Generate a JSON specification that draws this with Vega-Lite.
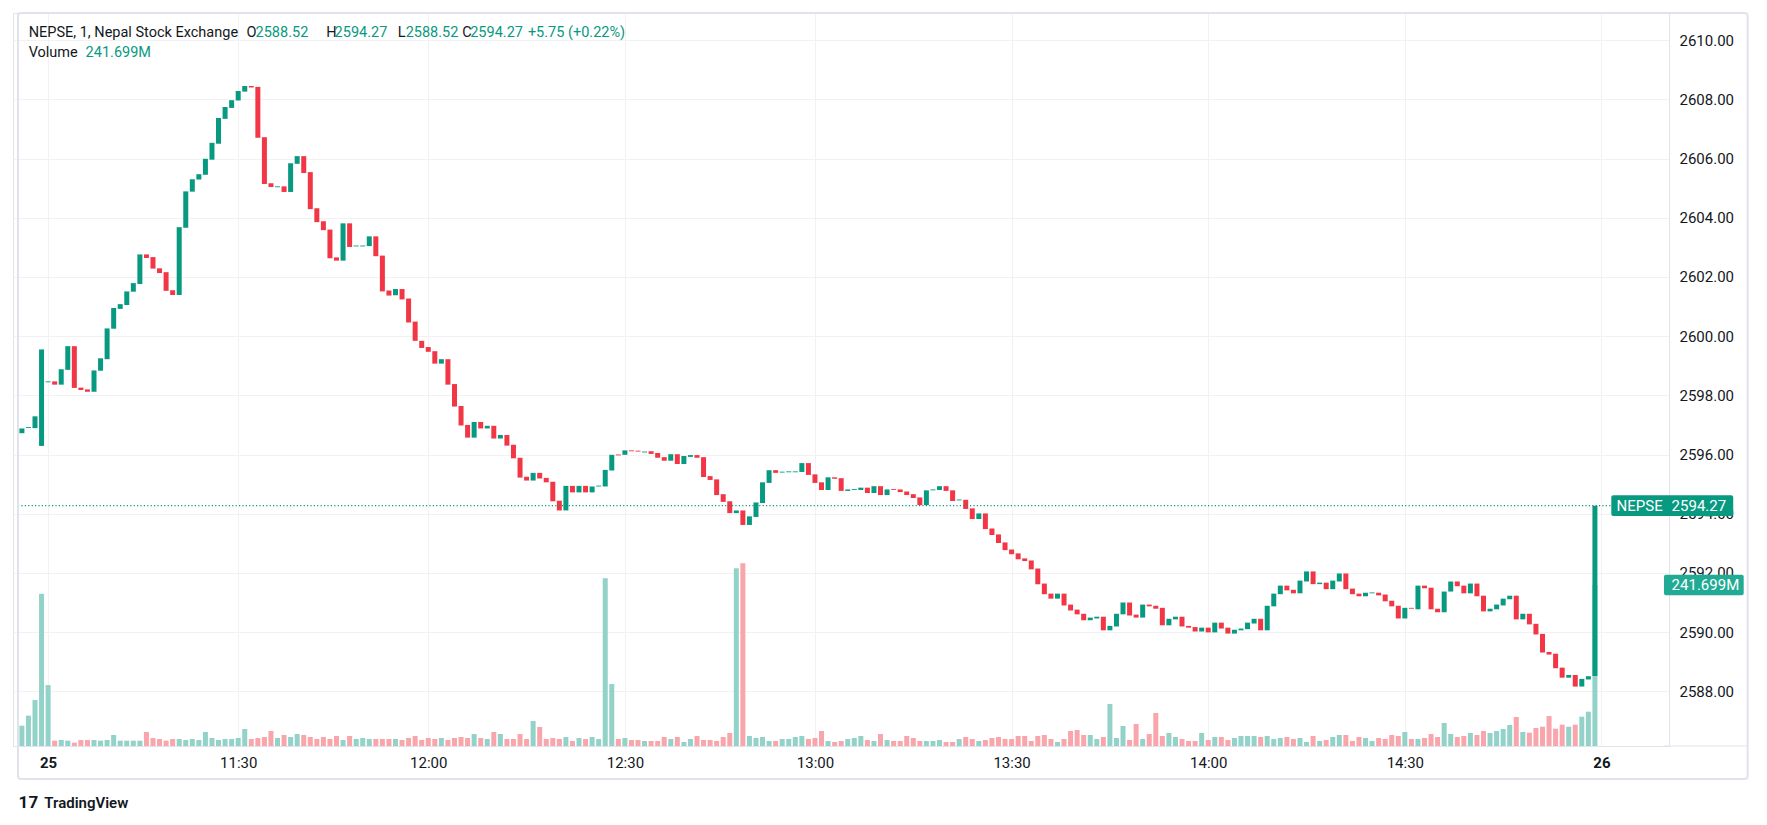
{
"$schema": "https://vega.github.io/schema/vega-lite/v6.json",
"width": 1656,
"height": 733,
"autosize": {"type": "none"},
"padding": {"left": 13, "top": 13, "right": 98, "bottom": 79},
"background": "white",
"config": {
  "view": {"stroke": "#E0E3EB", "strokeWidth": 1},
  "font": "Roboto",
  "axis": {"labelFont": "Roboto", "labelFontSize": 15, "labelColor": "#131722", "gridColor": "#F2F2F3", "gridWidth": 1, "domainColor": "#E0E3EB", "ticks": false}
},
"data": {"values": [
{"i":-4,"open":2596.72,"close":2596.88,"vol":30.5},
{"i":-3,"open":2596.90,"close":2596.93,"vol":45.5},
{"i":-2,"open":2596.89,"close":2597.29,"vol":69},
{"i":-1,"open":2596.29,"close":2599.55,"vol":228.5},
{"i":0,"open":2598.44,"close":2598.47,"vol":91.5},
{"i":1,"open":2598.47,"close":2598.36,"vol":8},
{"i":2,"open":2598.36,"close":2598.88,"vol":9},
{"i":3,"open":2598.86,"close":2599.66,"vol":8},
{"i":4,"open":2599.66,"close":2598.25,"vol":5},
{"i":5,"open":2598.26,"close":2598.18,"vol":9},
{"i":6,"open":2598.20,"close":2598.12,"vol":9},
{"i":7,"open":2598.12,"close":2598.84,"vol":9},
{"i":8,"open":2598.83,"close":2599.25,"vol":8},
{"i":9,"open":2599.22,"close":2600.26,"vol":9},
{"i":10,"open":2600.25,"close":2600.95,"vol":16.5},
{"i":11,"open":2600.92,"close":2601.08,"vol":8},
{"i":12,"open":2601.05,"close":2601.51,"vol":8},
{"i":13,"open":2601.50,"close":2601.79,"vol":8},
{"i":14,"open":2601.76,"close":2602.76,"vol":8},
{"i":15,"open":2602.76,"close":2602.64,"vol":21},
{"i":16,"open":2602.67,"close":2602.28,"vol":12},
{"i":17,"open":2602.29,"close":2602.13,"vol":10.5},
{"i":18,"open":2602.16,"close":2601.53,"vol":8},
{"i":19,"open":2601.55,"close":2601.39,"vol":10.5},
{"i":20,"open":2601.39,"close":2603.68,"vol":10.5},
{"i":21,"open":2603.66,"close":2604.89,"vol":9},
{"i":22,"open":2604.88,"close":2605.30,"vol":10.5},
{"i":23,"open":2605.29,"close":2605.47,"vol":9},
{"i":24,"open":2605.45,"close":2605.99,"vol":21},
{"i":25,"open":2605.96,"close":2606.53,"vol":12},
{"i":26,"open":2606.50,"close":2607.37,"vol":9},
{"i":27,"open":2607.34,"close":2607.74,"vol":10.5},
{"i":28,"open":2607.71,"close":2607.97,"vol":10.5},
{"i":29,"open":2607.96,"close":2608.28,"vol":12},
{"i":30,"open":2608.26,"close":2608.45,"vol":25.5},
{"i":31,"open":2608.45,"close":2608.40,"vol":10.5},
{"i":32,"open":2608.42,"close":2606.70,"vol":12},
{"i":33,"open":2606.72,"close":2605.14,"vol":13.5},
{"i":34,"open":2605.16,"close":2605.04,"vol":22.5},
{"i":35,"open":2605.03,"close":2605.06,"vol":12},
{"i":36,"open":2605.06,"close":2604.87,"vol":16.5},
{"i":37,"open":2604.87,"close":2605.84,"vol":13.5},
{"i":38,"open":2605.82,"close":2606.08,"vol":18},
{"i":39,"open":2606.08,"close":2605.51,"vol":16.5},
{"i":40,"open":2605.54,"close":2604.29,"vol":13.5},
{"i":41,"open":2604.32,"close":2603.85,"vol":10.5},
{"i":42,"open":2603.88,"close":2603.58,"vol":13.5},
{"i":43,"open":2603.60,"close":2602.63,"vol":10.5},
{"i":44,"open":2602.66,"close":2602.55,"vol":15},
{"i":45,"open":2602.55,"close":2603.81,"vol":9},
{"i":46,"open":2603.81,"close":2603.01,"vol":15},
{"i":47,"open":2603.03,"close":2603.06,"vol":10.5},
{"i":48,"open":2603.03,"close":2603.06,"vol":12},
{"i":49,"open":2603.04,"close":2603.37,"vol":10.5},
{"i":50,"open":2603.37,"close":2602.70,"vol":10.5},
{"i":51,"open":2602.72,"close":2601.51,"vol":10.5},
{"i":52,"open":2601.54,"close":2601.37,"vol":10.5},
{"i":53,"open":2601.38,"close":2601.59,"vol":10.5},
{"i":54,"open":2601.59,"close":2601.24,"vol":9},
{"i":55,"open":2601.27,"close":2600.46,"vol":12},
{"i":56,"open":2600.49,"close":2599.84,"vol":15},
{"i":57,"open":2599.84,"close":2599.60,"vol":9},
{"i":58,"open":2599.63,"close":2599.47,"vol":12},
{"i":59,"open":2599.49,"close":2599.07,"vol":10.5},
{"i":60,"open":2599.07,"close":2599.22,"vol":12},
{"i":61,"open":2599.22,"close":2598.36,"vol":9},
{"i":62,"open":2598.38,"close":2597.62,"vol":12},
{"i":63,"open":2597.64,"close":2596.98,"vol":13.5},
{"i":64,"open":2597.00,"close":2596.57,"vol":12},
{"i":65,"open":2596.57,"close":2597.10,"vol":18},
{"i":66,"open":2597.10,"close":2596.88,"vol":12},
{"i":67,"open":2596.88,"close":2596.97,"vol":10.5},
{"i":68,"open":2596.97,"close":2596.54,"vol":21},
{"i":69,"open":2596.54,"close":2596.66,"vol":18},
{"i":70,"open":2596.66,"close":2596.30,"vol":10.5},
{"i":71,"open":2596.33,"close":2595.87,"vol":10.5},
{"i":72,"open":2595.89,"close":2595.22,"vol":18},
{"i":73,"open":2595.25,"close":2595.12,"vol":10.5},
{"i":74,"open":2595.12,"close":2595.38,"vol":37.5},
{"i":75,"open":2595.38,"close":2595.19,"vol":28.5},
{"i":76,"open":2595.21,"close":2595.06,"vol":10.5},
{"i":77,"open":2595.08,"close":2594.42,"vol":12},
{"i":78,"open":2594.44,"close":2594.11,"vol":10.5},
{"i":79,"open":2594.11,"close":2594.94,"vol":13.5},
{"i":80,"open":2594.94,"close":2594.72,"vol":7.5},
{"i":81,"open":2594.72,"close":2594.94,"vol":12},
{"i":82,"open":2594.94,"close":2594.72,"vol":10.5},
{"i":83,"open":2594.72,"close":2594.92,"vol":13.5},
{"i":84,"open":2594.92,"close":2594.95,"vol":10.5},
{"i":85,"open":2594.92,"close":2595.48,"vol":252},
{"i":86,"open":2595.46,"close":2595.99,"vol":93},
{"i":87,"open":2596.00,"close":2595.97,"vol":10.5},
{"i":88,"open":2595.99,"close":2596.14,"vol":12},
{"i":89,"open":2596.14,"close":2596.11,"vol":9},
{"i":90,"open":2596.13,"close":2596.10,"vol":9},
{"i":91,"open":2596.07,"close":2596.10,"vol":7.5},
{"i":92,"open":2596.11,"close":2596.02,"vol":7.5},
{"i":93,"open":2596.05,"close":2595.89,"vol":7.5},
{"i":94,"open":2595.91,"close":2595.79,"vol":13.5},
{"i":95,"open":2595.79,"close":2596.01,"vol":10.5},
{"i":96,"open":2596.01,"close":2595.68,"vol":13.5},
{"i":97,"open":2595.68,"close":2595.95,"vol":6},
{"i":98,"open":2595.92,"close":2595.98,"vol":10.5},
{"i":99,"open":2595.98,"close":2595.89,"vol":15},
{"i":100,"open":2595.91,"close":2595.24,"vol":9},
{"i":101,"open":2595.27,"close":2595.14,"vol":9},
{"i":102,"open":2595.16,"close":2594.63,"vol":7.5},
{"i":103,"open":2594.66,"close":2594.40,"vol":13.5},
{"i":104,"open":2594.42,"close":2594.02,"vol":19.5},
{"i":105,"open":2594.02,"close":2594.11,"vol":267},
{"i":106,"open":2594.11,"close":2593.62,"vol":274.5},
{"i":107,"open":2593.62,"close":2593.91,"vol":15},
{"i":108,"open":2593.89,"close":2594.38,"vol":12},
{"i":109,"open":2594.36,"close":2595.06,"vol":13.5},
{"i":110,"open":2595.04,"close":2595.47,"vol":7.5},
{"i":111,"open":2595.47,"close":2595.38,"vol":7.5},
{"i":112,"open":2595.39,"close":2595.42,"vol":10.5},
{"i":113,"open":2595.40,"close":2595.43,"vol":10.5},
{"i":114,"open":2595.40,"close":2595.43,"vol":13.5},
{"i":115,"open":2595.41,"close":2595.71,"vol":15},
{"i":116,"open":2595.71,"close":2595.31,"vol":10.5},
{"i":117,"open":2595.33,"close":2595.04,"vol":12},
{"i":118,"open":2595.06,"close":2594.80,"vol":22.5},
{"i":119,"open":2594.80,"close":2595.23,"vol":7.5},
{"i":120,"open":2595.23,"close":2595.18,"vol":6},
{"i":121,"open":2595.20,"close":2594.77,"vol":7.5},
{"i":122,"open":2594.77,"close":2594.82,"vol":10.5},
{"i":123,"open":2594.80,"close":2594.83,"vol":12},
{"i":124,"open":2594.80,"close":2594.88,"vol":15},
{"i":125,"open":2594.88,"close":2594.70,"vol":9},
{"i":126,"open":2594.70,"close":2594.93,"vol":7.5},
{"i":127,"open":2594.93,"close":2594.63,"vol":18},
{"i":128,"open":2594.63,"close":2594.82,"vol":9},
{"i":129,"open":2594.83,"close":2594.80,"vol":7.5},
{"i":130,"open":2594.82,"close":2594.73,"vol":7.5},
{"i":131,"open":2594.75,"close":2594.63,"vol":15},
{"i":132,"open":2594.66,"close":2594.53,"vol":12},
{"i":133,"open":2594.55,"close":2594.29,"vol":7.5},
{"i":134,"open":2594.29,"close":2594.79,"vol":7.5},
{"i":135,"open":2594.79,"close":2594.82,"vol":7.5},
{"i":136,"open":2594.80,"close":2594.93,"vol":9},
{"i":137,"open":2594.93,"close":2594.77,"vol":6},
{"i":138,"open":2594.79,"close":2594.43,"vol":6},
{"i":139,"open":2594.45,"close":2594.48,"vol":10.5},
{"i":140,"open":2594.47,"close":2594.16,"vol":13.5},
{"i":141,"open":2594.18,"close":2593.82,"vol":10.5},
{"i":142,"open":2593.82,"close":2594.01,"vol":7.5},
{"i":143,"open":2594.01,"close":2593.48,"vol":9},
{"i":144,"open":2593.50,"close":2593.28,"vol":12},
{"i":145,"open":2593.30,"close":2593.01,"vol":13.5},
{"i":146,"open":2593.03,"close":2592.77,"vol":10.5},
{"i":147,"open":2592.79,"close":2592.63,"vol":10.5},
{"i":148,"open":2592.66,"close":2592.46,"vol":15},
{"i":149,"open":2592.49,"close":2592.40,"vol":15},
{"i":150,"open":2592.42,"close":2592.12,"vol":7.5},
{"i":151,"open":2592.15,"close":2591.62,"vol":15},
{"i":152,"open":2591.64,"close":2591.28,"vol":16.5},
{"i":153,"open":2591.30,"close":2591.13,"vol":10.5},
{"i":154,"open":2591.13,"close":2591.30,"vol":6},
{"i":155,"open":2591.30,"close":2590.90,"vol":10.5},
{"i":156,"open":2590.93,"close":2590.73,"vol":22.5},
{"i":157,"open":2590.76,"close":2590.60,"vol":24},
{"i":158,"open":2590.62,"close":2590.40,"vol":16.5},
{"i":159,"open":2590.40,"close":2590.49,"vol":16.5},
{"i":160,"open":2590.46,"close":2590.52,"vol":10.5},
{"i":161,"open":2590.52,"close":2590.06,"vol":13.5},
{"i":162,"open":2590.06,"close":2590.21,"vol":63},
{"i":163,"open":2590.19,"close":2590.62,"vol":12},
{"i":164,"open":2590.60,"close":2591.00,"vol":30},
{"i":165,"open":2591.00,"close":2590.56,"vol":9},
{"i":166,"open":2590.59,"close":2590.49,"vol":33},
{"i":167,"open":2590.49,"close":2590.93,"vol":10.5},
{"i":168,"open":2590.93,"close":2590.87,"vol":18},
{"i":169,"open":2590.89,"close":2590.79,"vol":49.5},
{"i":170,"open":2590.82,"close":2590.23,"vol":15},
{"i":171,"open":2590.23,"close":2590.45,"vol":19.5},
{"i":172,"open":2590.43,"close":2590.52,"vol":13.5},
{"i":173,"open":2590.52,"close":2590.19,"vol":10.5},
{"i":174,"open":2590.21,"close":2590.15,"vol":7.5},
{"i":175,"open":2590.17,"close":2590.02,"vol":7.5},
{"i":176,"open":2590.02,"close":2590.15,"vol":19.5},
{"i":177,"open":2590.15,"close":2589.99,"vol":9},
{"i":178,"open":2589.99,"close":2590.32,"vol":13.5},
{"i":179,"open":2590.32,"close":2590.12,"vol":13.5},
{"i":180,"open":2590.15,"close":2589.95,"vol":9},
{"i":181,"open":2589.95,"close":2590.08,"vol":12},
{"i":182,"open":2590.06,"close":2590.12,"vol":15},
{"i":183,"open":2590.10,"close":2590.32,"vol":15},
{"i":184,"open":2590.29,"close":2590.45,"vol":15},
{"i":185,"open":2590.45,"close":2590.06,"vol":13.5},
{"i":186,"open":2590.06,"close":2590.89,"vol":15},
{"i":187,"open":2590.87,"close":2591.30,"vol":10.5},
{"i":188,"open":2591.28,"close":2591.57,"vol":12},
{"i":189,"open":2591.57,"close":2591.41,"vol":13.5},
{"i":190,"open":2591.43,"close":2591.31,"vol":10.5},
{"i":191,"open":2591.31,"close":2591.74,"vol":12},
{"i":192,"open":2591.71,"close":2592.05,"vol":6},
{"i":193,"open":2592.05,"close":2591.62,"vol":15},
{"i":194,"open":2591.62,"close":2591.67,"vol":7.5},
{"i":195,"open":2591.67,"close":2591.45,"vol":9},
{"i":196,"open":2591.45,"close":2591.74,"vol":13.5},
{"i":197,"open":2591.71,"close":2591.98,"vol":16.5},
{"i":198,"open":2591.98,"close":2591.45,"vol":16.5},
{"i":199,"open":2591.47,"close":2591.28,"vol":7.5},
{"i":200,"open":2591.30,"close":2591.21,"vol":13.5},
{"i":201,"open":2591.21,"close":2591.33,"vol":12},
{"i":202,"open":2591.31,"close":2591.34,"vol":7.5},
{"i":203,"open":2591.33,"close":2591.24,"vol":12},
{"i":204,"open":2591.27,"close":2591.04,"vol":10.5},
{"i":205,"open":2591.06,"close":2590.87,"vol":16.5},
{"i":206,"open":2590.89,"close":2590.46,"vol":15},
{"i":207,"open":2590.46,"close":2590.82,"vol":21},
{"i":208,"open":2590.82,"close":2590.79,"vol":10.5},
{"i":209,"open":2590.77,"close":2591.57,"vol":10.5},
{"i":210,"open":2591.57,"close":2591.48,"vol":12},
{"i":211,"open":2591.50,"close":2590.77,"vol":18},
{"i":212,"open":2590.79,"close":2590.67,"vol":13.5},
{"i":213,"open":2590.67,"close":2591.37,"vol":34.5},
{"i":214,"open":2591.37,"close":2591.71,"vol":18},
{"i":215,"open":2591.71,"close":2591.55,"vol":13.5},
{"i":216,"open":2591.57,"close":2591.31,"vol":15},
{"i":217,"open":2591.31,"close":2591.64,"vol":19.5},
{"i":218,"open":2591.64,"close":2591.21,"vol":16.5},
{"i":219,"open":2591.23,"close":2590.70,"vol":22.5},
{"i":220,"open":2590.70,"close":2590.79,"vol":19.5},
{"i":221,"open":2590.77,"close":2590.93,"vol":22.5},
{"i":222,"open":2590.90,"close":2591.13,"vol":25.5},
{"i":223,"open":2591.11,"close":2591.23,"vol":31.5},
{"i":224,"open":2591.23,"close":2590.43,"vol":43.5},
{"i":225,"open":2590.43,"close":2590.62,"vol":21},
{"i":226,"open":2590.62,"close":2590.26,"vol":20},
{"i":227,"open":2590.28,"close":2589.92,"vol":27},
{"i":228,"open":2589.94,"close":2589.31,"vol":29},
{"i":229,"open":2589.33,"close":2589.24,"vol":45},
{"i":230,"open":2589.27,"close":2588.78,"vol":26},
{"i":231,"open":2588.80,"close":2588.46,"vol":32},
{"i":232,"open":2588.46,"close":2588.55,"vol":29},
{"i":233,"open":2588.55,"close":2588.16,"vol":32},
{"i":234,"open":2588.16,"close":2588.42,"vol":44},
{"i":235,"open":2588.40,"close":2588.51,"vol":51.5},
{"i":236,"open":2588.52,"close":2594.27,"vol":241.699}
]},
"resolve": {"scale": {"y": "independent"}},
"layer": [
  {
    "layer": [
      {"mark": {"type": "bar", "width": 5, "orient": "vertical"},
       "encoding": {
         "x": {"field": "i", "type": "quantitative", "scale": {"domain": [-4.595, 246.54], "nice": false, "zero": false},
           "axis": {"values": [0, 29, 58, 88, 117, 147, 177, 207, 237], "title": null, "grid": true, "domain": true, "labelPadding": 9, "labelFlush": false, "labelOverlap": false,
             "labelExpr": "datum.value == 0 ? '25' : datum.value == 29 ? '11:30' : datum.value == 58 ? '12:00' : datum.value == 88 ? '12:30' : datum.value == 117 ? '13:00' : datum.value == 147 ? '13:30' : datum.value == 177 ? '14:00' : datum.value == 207 ? '14:30' : '26'",
             "labelFontWeight": {"condition": {"test": "datum.value == 0 || datum.value == 237", "value": "bold"}, "value": "normal"}}},
         "y": {"field": "vol", "type": "quantitative", "scale": {"domain": [0, 1100.4], "nice": false}, "axis": null},
         "color": {"condition": {"test": "datum.close >= datum.open", "value": "#92D2C8"}, "value": "#F8A6AC"}}},
      {"data": {"values": [{}]},
       "mark": {"type": "rect", "color": "#22AB94", "cornerRadius": 2},
       "encoding": {"x": {"datum": 246.54, "type": "quantitative"}, "x2": {"datum": 258.7}, "y": {"datum": 257.2, "type": "quantitative"}, "y2": {"datum": 226.2}}},
      {"data": {"values": [{}]},
       "mark": {"type": "text", "text": "241.699M", "color": "white", "font": "Roboto", "fontSize": 15, "align": "left", "baseline": "middle"},
       "encoding": {"x": {"datum": 247.7, "type": "quantitative"}, "y": {"datum": 241.699, "type": "quantitative"}}}
    ]
  },
  {
    "layer": [
      {"mark": {"type": "bar", "width": 5},
       "encoding": {
         "x": {"field": "i", "type": "quantitative", "scale": {"domain": [-4.595, 246.54], "nice": false, "zero": false},
           "axis": {"values": [0, 29, 58, 88, 117, 147, 177, 207, 237], "title": null, "grid": true, "domain": true, "labelPadding": 9, "labelFlush": false, "labelOverlap": false,
             "labelExpr": "datum.value == 0 ? '25' : datum.value == 29 ? '11:30' : datum.value == 58 ? '12:00' : datum.value == 88 ? '12:30' : datum.value == 117 ? '13:00' : datum.value == 147 ? '13:30' : datum.value == 177 ? '14:00' : datum.value == 207 ? '14:30' : '26'",
             "labelFontWeight": {"condition": {"test": "datum.value == 0 || datum.value == 237", "value": "bold"}, "value": "normal"}}},
         "y": {"field": "open", "type": "quantitative",
           "scale": {"domain": [2586.152, 2610.916], "nice": false, "zero": false},
           "axis": {"orient": "right", "title": null, "values": [2588, 2590, 2592, 2594, 2596, 2598, 2600, 2602, 2604, 2606, 2608, 2610], "format": ".2f", "grid": true, "domain": true, "labelPadding": 10, "labelAlign": "left", "labelBaseline": "middle"}},
         "y2": {"field": "close"},
         "color": {"condition": {"test": "datum.close >= datum.open", "value": "#089981"}, "value": "#F23645"}}},
      {"data": {"values": [{}]},
       "mark": {"type": "rule", "color": "#089981", "strokeDash": [1.2, 2.2], "strokeWidth": 1.2},
       "encoding": {"x": {"datum": -4.595, "type": "quantitative"}, "x2": {"datum": 238.5}, "y": {"datum": 2594.27, "type": "quantitative"}}},
      {"data": {"values": [{}]},
       "mark": {"type": "rect", "color": "#089981", "cornerRadius": 2},
       "encoding": {"x": {"datum": 238.5, "type": "quantitative"}, "x2": {"datum": 257.1}, "y": {"datum": 2594.62, "type": "quantitative"}, "y2": {"datum": 2593.92}}},
      {"data": {"values": [{}]},
       "mark": {"type": "text", "text": "NEPSE", "color": "white", "font": "Roboto", "fontSize": 15, "align": "left", "baseline": "middle"},
       "encoding": {"x": {"datum": 239.3, "type": "quantitative"}, "y": {"datum": 2594.27, "type": "quantitative"}}},
      {"data": {"values": [{}]},
       "mark": {"type": "text", "text": "2594.27", "color": "white", "font": "Roboto", "fontSize": 15, "align": "left", "baseline": "middle"},
       "encoding": {"x": {"datum": 247.7, "type": "quantitative"}, "y": {"datum": 2594.27, "type": "quantitative"}}},
      {"data": {"values": [{}]},
       "mark": {"type": "rect", "filled": false, "stroke": "#E0E3EB", "strokeWidth": 2, "cornerRadius": 3},
       "encoding": {"x": {"datum": -4.595, "type": "quantitative"}, "x2": {"datum": 259.3}, "y": {"datum": 2610.916, "type": "quantitative"}, "y2": {"datum": 2585.037}}},
      {"data": {"values": [{}]},
       "mark": {"type": "rule", "color": "#E0E3EB", "strokeWidth": 1},
       "encoding": {"x": {"datum": 246.54, "type": "quantitative"}, "x2": {"datum": 259.3}, "y": {"datum": 2586.152, "type": "quantitative"}}},
      {"data": {"values": [{"seg": "NEPSE, 1, Nepal Stock Exchange", "pos": -2.97, "kind": "name"}, {"seg": "O", "pos": 30.28, "kind": "name"}, {"seg": "H", "pos": 42.42, "kind": "name"}, {"seg": "L", "pos": 53.33, "kind": "name"}, {"seg": "C", "pos": 63.19, "kind": "name"}, {"seg": "2588.52", "pos": 31.65, "kind": "value"}, {"seg": "2594.27", "pos": 43.71, "kind": "value"}, {"seg": "2588.52", "pos": 54.55, "kind": "value"}, {"seg": "2594.27", "pos": 64.4, "kind": "value"}, {"seg": "+5.75 (+0.22%)", "pos": 73.2, "kind": "value"}]},
       "mark": {"type": "text", "font": "Roboto", "fontSize": 14.5, "align": "left", "baseline": "middle"},
       "encoding": {"x": {"field": "pos", "type": "quantitative"}, "y": {"datum": 2610.24, "type": "quantitative"}, "text": {"field": "seg"},
         "color": {"condition": {"test": "datum.kind == 'value'", "value": "#089981"}, "value": "#131722"}}},
      {"data": {"values": [{"seg": "Volume", "pos": -2.97, "kind": "name"}, {"seg": "241.699M", "pos": 5.72, "kind": "value"}]},
       "mark": {"type": "text", "font": "Roboto", "fontSize": 14.5, "align": "left", "baseline": "middle"},
       "encoding": {"x": {"field": "pos", "type": "quantitative"}, "y": {"datum": 2609.564, "type": "quantitative"}, "text": {"field": "seg"},
         "color": {"condition": {"test": "datum.kind == 'value'", "value": "#089981"}, "value": "#131722"}}},
      {"data": {"values": [{}]},
       "mark": {"type": "text", "text": "TradingView", "color": "#131722", "font": "Roboto", "fontSize": 15, "fontWeight": 600, "align": "left", "baseline": "middle"},
       "encoding": {"x": {"datum": -0.58, "type": "quantitative"}, "y": {"datum": 2584.23, "type": "quantitative"}}},
      {"data": {"values": [{}]},
       "mark": {"type": "text", "text": "17", "color": "#131722", "font": "Roboto", "fontSize": 17, "fontWeight": "bold", "align": "left", "baseline": "middle"},
       "encoding": {"x": {"datum": -4.5, "type": "quantitative"}, "y": {"datum": 2584.23, "type": "quantitative"}}}
    ]
  }
]
}
